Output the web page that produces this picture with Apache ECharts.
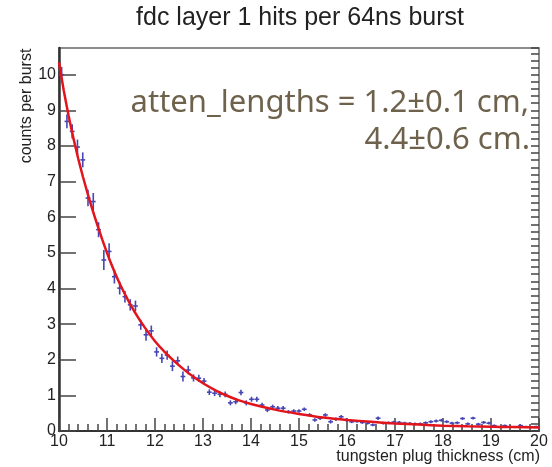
<!DOCTYPE html>
<html>
<head>
<meta charset="utf-8">
<script src="https://cdn.jsdelivr.net/npm/echarts@6/dist/echarts.min.js"></script>
<style>
  html, body { margin: 0; padding: 0; background: #ffffff; }
  #chart { width: 552px; height: 467px; }
</style>
</head>
<body>
<div id="chart"></div>
<script>
// Plug thickness of each measurement bin (cm)
const thickness = [
  10.055, 10.165, 10.275, 10.385, 10.495, 10.604, 10.714, 10.824, 10.934, 11.044,
  11.154, 11.264, 11.374, 11.484, 11.593, 11.703, 11.813, 11.923, 12.033, 12.143,
  12.253, 12.363, 12.473, 12.582, 12.692, 12.802, 12.912, 13.022, 13.132, 13.242,
  13.352, 13.462, 13.571, 13.681, 13.791, 13.901, 14.011, 14.121, 14.231, 14.341,
  14.451, 14.560, 14.670, 14.780, 14.890, 15.000, 15.110, 15.220, 15.330, 15.440,
  15.549, 15.659, 15.769, 15.879, 15.989, 16.099, 16.209, 16.319, 16.429, 16.538,
  16.648, 16.758, 16.868, 16.978, 17.088, 17.198, 17.308, 17.418, 17.527, 17.637,
  17.747, 17.857, 17.967, 18.077, 18.187, 18.297, 18.407, 18.516, 18.626, 18.736,
  18.846, 18.956, 19.066, 19.176, 19.286, 19.396, 19.505, 19.615, 19.725, 19.835,
  19.945
];

// Mean hit counts per burst
const counts = [
  10.00, 8.69, 8.41, 7.97, 7.61, 6.54, 6.44, 5.65, 4.80, 5.04,
  4.33, 4.01, 3.77, 3.54, 3.51, 2.98, 2.70, 2.81, 2.22, 2.04,
  2.13, 1.82, 1.97, 1.53, 1.71, 1.49, 1.48, 1.40, 1.09, 1.06,
  1.03, 1.03, 0.79, 0.82, 1.08, 0.79, 0.89, 0.89, 0.73, 0.59,
  0.68, 0.64, 0.64, 0.54, 0.56, 0.56, 0.61, 0.45, 0.31, 0.36,
  0.45, 0.26, 0.33, 0.40, 0.31, 0.26, 0.27, 0.24, 0.22, 0.17,
  0.36, 0.22, 0.23, 0.25, 0.24, 0.22, 0.21, 0.20, 0.20, 0.23,
  0.26, 0.28, 0.30, 0.26, 0.22, 0.23, 0.35, 0.20, 0.36, 0.19,
  0.24, 0.22, 0.15, 0.11, 0.15, 0.12, 0.11, 0.15, 0.12, 0.11,
  0.12
];

// Statistical uncertainty on each count
const countErrors = [
  0.22, 0.19, 0.20, 0.21, 0.21, 0.23, 0.24, 0.21, 0.28, 0.23,
  0.19, 0.18, 0.16, 0.16, 0.15, 0.14, 0.17, 0.15, 0.13, 0.13,
  0.13, 0.14, 0.12, 0.14, 0.12, 0.10, 0.10, 0.09, 0.08, 0.08,
  0.08, 0.08, 0.07, 0.07, 0.08, 0.07, 0.07, 0.07, 0.06, 0.06,
  0.06, 0.06, 0.06, 0.05, 0.05, 0.05, 0.05, 0.05, 0.05, 0.05,
  0.05, 0.05, 0.05, 0.05, 0.05, 0.04, 0.04, 0.04, 0.04, 0.04,
  0.05, 0.04, 0.04, 0.04, 0.04, 0.04, 0.04, 0.04, 0.04, 0.04,
  0.04, 0.04, 0.04, 0.04, 0.04, 0.04, 0.04, 0.04, 0.04, 0.04,
  0.04, 0.04, 0.03, 0.03, 0.03, 0.03, 0.03, 0.03, 0.03, 0.03,
  0.03
];

// Double-exponential attenuation fit, sampled along the thickness range
const fitX = [10.0, 10.1, 10.2, 10.3, 10.4, 10.5, 10.6, 10.7, 10.8, 10.9,
              11.0, 11.1, 11.2, 11.35, 11.5, 11.65, 11.8, 12.0, 12.2, 12.4,
              12.6, 12.8, 13.0, 13.25, 13.5, 13.75, 14.0, 14.5, 15.0, 15.5,
              16.0, 16.5, 17.0, 17.5, 18.0, 18.5, 19.0, 19.5, 20.0];
const fitY = [10.35, 9.55, 8.85, 8.22, 7.65, 7.13, 6.65, 6.2, 5.78, 5.38,
              5.0, 4.65, 4.33, 3.9, 3.52, 3.18, 2.88, 2.52, 2.22, 1.96,
              1.73, 1.52, 1.34, 1.15, 0.99, 0.86, 0.76, 0.6, 0.48, 0.38,
              0.31, 0.26, 0.21, 0.18, 0.15, 0.13, 0.12, 0.11, 0.10];

const titleText = 'fdc layer 1 hits per 64ns burst';
const xTitle = 'tungsten plug thickness (cm)';
const yTitle = 'counts per burst';
const fitNote = ['atten_lengths = 1.2\u00b10.1 cm,', '4.4\u00b10.6 cm.'];

const xMin = 10, xMax = 20;
const yMin = 0, yMax = 10.75;

const AXIS_FONT = '"Liberation Sans", Arial, sans-serif';
const NOTE_FONT = '31px "Noto Sans", "Open Sans", sans-serif';
const POINT_COLOR = '#4646b4';
const FIT_COLOR = '#e2141c';

const chart = echarts.init(document.getElementById('chart'), null, { renderer: 'canvas' });

const option = {
  backgroundColor: '#ffffff',
  animation: false,
  grid: {
    left: 59, right: 13, top: 48, bottom: 36,
    show: true, borderColor: '#666666', borderWidth: 1.5,
    containLabel: false
  },
  xAxis: {
    type: 'value', min: xMin, max: xMax, interval: 1,
    axisLine: { show: true, onZero: false, lineStyle: { color: '#333333', width: 2 } },
    axisTick: { show: true, inside: true, length: 13, lineStyle: { color: '#444444', width: 1.5 } },
    minorTick: { show: true, splitNumber: 5, length: 7, lineStyle: { color: '#444444', width: 1.5 } },
    splitLine: { show: false },
    axisLabel: { color: '#222222', fontSize: 16, fontFamily: AXIS_FONT, margin: 3 }
  },
  yAxis: [
    {
      type: 'value', min: yMin, max: yMax, interval: 1,
      axisLine: { show: true, onZero: false, lineStyle: { color: '#333333', width: 2.5 } },
      axisTick: { show: true, inside: true, length: 17, lineStyle: { color: '#444444', width: 1.5 } },
      splitLine: { show: false },
      axisLabel: { color: '#222222', fontSize: 16, fontFamily: AXIS_FONT, margin: 3, showMaxLabel: false }
    },
    {
      // minor ticks every 0.2
      type: 'value', min: yMin, max: yMax, interval: 0.2,
      axisLine: { show: false },
      axisTick: { show: true, inside: true, length: 8, lineStyle: { color: '#444444', width: 1.5 } },
      splitLine: { show: false },
      axisLabel: { show: false }
    }
  ],
  series: [
    {
      name: 'data',
      type: 'custom',
      xAxisIndex: 0, yAxisIndex: 0,
      z: 2,
      data: thickness.map((x, i) => [x, counts[i], countErrors[i]]),
      encode: { x: 0, y: 1 },
      renderItem: function (params, api) {
        const x = api.value(0), y = api.value(1), e = api.value(2);
        const top = api.coord([x, y + e]);
        const bot = api.coord([x, y - e]);
        const lft = api.coord([x - 0.05, y]);
        const rgt = api.coord([x + 0.05, y]);
        const st = { stroke: POINT_COLOR, lineWidth: 1.6 };
        return {
          type: 'group',
          children: [
            { type: 'line', shape: { x1: top[0], y1: top[1], x2: bot[0], y2: bot[1] }, style: st },
            { type: 'line', shape: { x1: lft[0], y1: lft[1], x2: rgt[0], y2: rgt[1] }, style: st }
          ]
        };
      }
    },
    {
      name: 'fit',
      type: 'line',
      xAxisIndex: 0, yAxisIndex: 0,
      z: 3,
      smooth: 0.2,
      symbol: 'none',
      data: fitX.map((x, i) => [x, fitY[i]]),
      lineStyle: { color: FIT_COLOR, width: 2.5 }
    }
  ],
  graphic: [
    {
      type: 'text', z: 10,
      style: { x: 300, y: 18, text: titleText, align: 'center', verticalAlign: 'middle',
               font: '25px ' + AXIS_FONT, fill: '#222222' }
    },
    {
      type: 'text', z: 10, x: 27, y: 106, rotation: Math.PI / 2,
      style: { x: 0, y: 0, text: yTitle, align: 'center', verticalAlign: 'middle',
               font: '16px ' + AXIS_FONT, fill: '#222222' }
    },
    {
      type: 'text', z: 10,
      style: { x: 540, y: 457, text: xTitle, align: 'right', verticalAlign: 'middle',
               font: '16px ' + AXIS_FONT, fill: '#222222' }
    },
    {
      type: 'text', z: 10,
      style: { x: 529, y: 103, text: fitNote[0], align: 'right', verticalAlign: 'middle',
               font: NOTE_FONT, fill: '#6e624c' }
    },
    {
      type: 'text', z: 10,
      style: { x: 530, y: 140, text: fitNote[1], align: 'right', verticalAlign: 'middle',
               font: NOTE_FONT, fill: '#6e624c' }
    }
  ]
};

chart.setOption(option);
</script>
</body>
</html>
